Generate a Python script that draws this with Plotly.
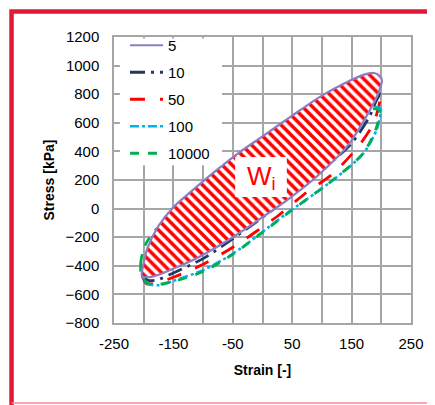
import plotly.graph_objects as go

# ---- data ----
strain_5 = [-203, -201, -193, -175, -150, -120, -80, -40, 0, 50, 100, 140, 170, 188, 198, 201, 195, 181, 142, 91, 46, 0, -50, -110, -150, -175, -192, -203]
stress_5 = [-470, -400, -270, -120, 10, 120, 260, 390, 505, 650, 790, 880, 935, 948, 925, 895, 808, 690, 433, 223, 74, -60, -200, -345, -420, -462, -480, -470]

strain_10 = [-197, -195, -185, -160, -120, -70, -10, 60, 120, 165, 190, 197, 195, 192, 180, 150, 97, 24, -49, -100, -150, -178, -192, -197]
stress_10 = [-490, -440, -350, -220, -90, 60, 240, 450, 640, 780, 830, 810, 780, 759, 643, 457, 258, 13, -208, -350, -450, -500, -502, -490]

strain_50 = [-203, -200, -190, -165, -125, -75, -15, 55, 115, 160, 188, 198, 197, 187, 161, 119, 70, 24, -50, -100, -150, -180, -195, -203]
stress_50 = [-460, -400, -310, -190, -60, 90, 260, 460, 640, 750, 790, 770, 740, 597, 433, 247, 100, -57, -270, -390, -480, -522, -525, -460]

strain_100 = [-200, -198, -188, -165, -125, -75, -15, 55, 115, 160, 188, 199, 199, 192, 170, 119, 41, -49, -100, -150, -173, -190, -200]
stress_100 = [-500, -430, -330, -200, -70, 80, 250, 440, 600, 690, 710, 700, 670, 550, 387, 200, -33, -313, -430, -505, -535, -530, -500]

strain_10000 = [-203, -205, -198, -180, -140, -90, -30, 40, 105, 155, 185, 196, 197, 190, 168, 117, 40, -50, -100, -150, -175, -192, -203]
stress_10000 = [-480, -380, -260, -150, -30, 110, 270, 450, 600, 680, 700, 690, 660, 545, 380, 195, -40, -320, -440, -510, -530, -522, -480]

series_names = ["5", "10", "50", "100", "10000"]
x_tick_vals = [-250, -150, -50, 50, 150, 250]
y_tick_vals = [-800, -600, -400, -200, 0, 200, 400, 600, 800, 1000, 1200]

FONT = "Liberation Sans, Arial, sans-serif"
GRID = "#A6A6A6"

fig = go.Figure()

other = [
    ("10", strain_10, stress_10, "#1F3864", "longdashdot", 2.8, 2),
    ("50", strain_50, stress_50, "#FF0000", "longdash", 2.8, 3),
    ("100", strain_100, stress_100, "#00B0F0", "dashdot", 2.6, 4),
    ("10000", strain_10000, stress_10000, "#00B050", "dash", 2.8, 5),
]
for name, xs, ys, col, dash, w, rank in other:
    fig.add_trace(go.Scatter(
        x=xs, y=ys, mode="lines", name=name, legendrank=rank, legendgroup=name,
        line=dict(color=col, dash=dash, width=w, shape="spline", smoothing=0.8),
    ))

# hatched area W_i (cycle 5)
fig.add_trace(go.Scatter(
    x=strain_5, y=stress_5, mode="lines", showlegend=False, hoverinfo="skip",
    fill="toself", fillcolor="white",
    fillpattern=dict(shape="\\", fgcolor="#FF0000", fgopacity=1, bgcolor="white", size=7, solidity=0.5),
    line=dict(width=0, shape="spline", smoothing=0.8),
))
fig.add_trace(go.Scatter(
    x=strain_5, y=stress_5, mode="lines", name="5", legendrank=1, legendgroup="5",
    line=dict(color="#8E7CC3", width=2.2, shape="spline", smoothing=0.8),
))

# W_i label box
fig.add_shape(type="rect", xref="x", yref="y", x0=-46, x1=41, y0=81, y1=361,
              fillcolor="white", line=dict(width=0), layer="above")
fig.add_annotation(x=-2, y=215, xref="x", yref="y", text="W<sub>i</sub>", showarrow=False,
                   font=dict(family=FONT, size=26, color="#FF0000"))

# white legend box (covers the grid as in the reference)
fig.add_shape(type="rect", xref="paper", yref="paper", x0=0.02, x1=0.364, y0=0.552, y1=0.995,
              fillcolor="white", line=dict(width=0), layer="above")

# red frame
fig.add_shape(type="path", xref="paper", yref="paper",
              path="M -0.345,-0.30 L -0.345,1.089 L 1.2,1.089",
              line=dict(color="#E31837", width=4.5), layer="above")
fig.add_shape(type="line", xref="paper", yref="paper", x0=-0.345, x1=1.2, y0=-0.2797, y1=-0.2797,
              line=dict(color="#F4889A", width=1.5), layer="above")

fig.update_layout(
    width=427, height=397,
    margin=dict(l=106, r=24, t=29, b=82),
    paper_bgcolor="white", plot_bgcolor="white",
    font=dict(family=FONT, size=15, color="#000000"),
    showlegend=True,
    legend=dict(x=0.037, y=1.028, xanchor="left", yanchor="top", bgcolor="rgba(0,0,0,0)",
                borderwidth=0, tracegroupgap=4.5, itemwidth=33,
                font=dict(family=FONT, size=15, color="#000000")),
    xaxis=dict(range=[-250, 250], tickvals=x_tick_vals, ticktext=[str(v) for v in x_tick_vals],
               showgrid=True, gridcolor=GRID, gridwidth=1.5,
               minor=dict(tickvals=[-200, -100, 0, 100, 200], showgrid=True, gridcolor=GRID, gridwidth=1.5),
               zeroline=False, showline=True, linecolor=GRID, linewidth=1.5, mirror=True,
               ticks="", ticklabelstandoff=6,
               title=dict(text="<b>Strain [-]</b>", font=dict(family=FONT, size=14), standoff=14)),
    yaxis=dict(range=[-800, 1200], tickvals=y_tick_vals,
               showgrid=True, gridcolor=GRID, gridwidth=1.5,
               zeroline=False, showline=True, linecolor=GRID, linewidth=1.5, mirror=True,
               ticks="", ticklabelstandoff=10,
               title=dict(text="<b>Stress [kPa]</b>", font=dict(family=FONT, size=14), standoff=8)),
)

fig.write_html("out.html")
